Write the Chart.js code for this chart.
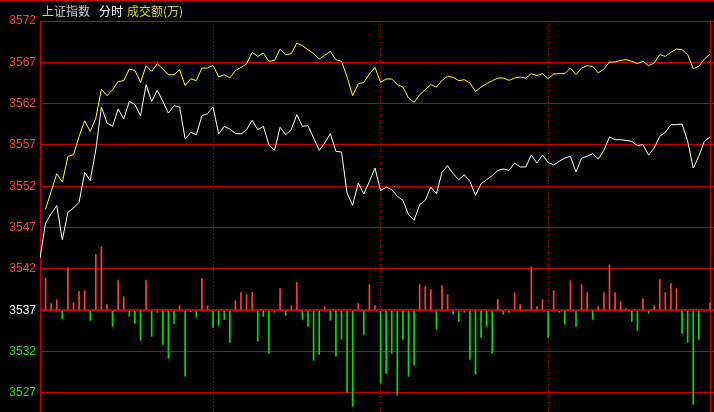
<!DOCTYPE html>
<html>
<head>
<meta charset="utf-8">
<style>
  html, body { margin: 0; padding: 0; background: #000; }
  #wrap { position: relative; width: 714px; height: 412px; }
  #chart { display: block; width: 714px; height: 412px; }
  #title { position: absolute; left: 42px; top: 4px; font: 12px "Noto Sans CJK SC", sans-serif; line-height: 13px; white-space: nowrap; }
  #title .a { color: #c8c8c8; }
  #title .b { color: #ffffff; margin-left: 9px; }
  #title .c { color: #d4d41e; margin-left: 4px; }
</style>
<script src="https://cdn.jsdelivr.net/npm/chart.js@4"></script>
</head>
<body>
<div id="wrap">
  <canvas id="chart" width="714" height="412"></canvas>
  <div id="title"><span class="a">上证指数</span><span class="b">分时</span><span class="c">成交额(万)</span></div>
</div>
<script>
// price line (white), one point per index 0..120
const priceLine = [
  3543.33, 3547.57, 3548.69, 3549.66, 3545.55, 3548.85, 3549.38, 3550.06, 3553.69, 3552.68,
  3556.43, 3561.60, 3559.66, 3559.25, 3561.36, 3560.15, 3562.27, 3561.88, 3560.54, 3564.29,
  3562.27, 3563.61, 3562.27, 3560.87, 3561.75, 3561.60, 3557.73, 3558.52, 3558.25, 3560.54,
  3560.79, 3561.60, 3558.33, 3559.25, 3558.94, 3558.40, 3558.33, 3558.85, 3559.98, 3558.85,
  3559.26, 3557.04, 3556.35, 3559.14, 3558.25, 3558.85, 3560.67, 3559.26, 3559.34, 3557.85,
  3556.35, 3557.24, 3558.37, 3556.23, 3556.15, 3551.19, 3549.70, 3552.40, 3551.07, 3552.60,
  3554.22, 3551.47, 3551.92, 3551.60, 3550.79, 3550.31, 3548.57, 3547.89, 3549.78, 3550.31,
  3551.92, 3551.11, 3553.69, 3554.50, 3553.53, 3552.81, 3553.41, 3552.60, 3550.91, 3552.32,
  3552.81, 3553.29, 3553.93, 3554.10, 3553.93, 3554.82, 3554.34, 3554.34, 3555.79, 3554.82,
  3555.79, 3554.90, 3554.58, 3555.02, 3555.42, 3555.63, 3553.73, 3555.42, 3555.63, 3555.95,
  3555.30, 3556.35, 3557.97, 3557.64, 3557.64, 3557.56, 3557.44, 3556.92, 3557.04, 3555.79,
  3556.64, 3558.05, 3558.53, 3559.46, 3559.46, 3559.54, 3557.44, 3554.22, 3555.63, 3557.44,
  3557.97
];

// yellow line, starts at index 1
const avgLine = [
  null,    3549.26, 3551.39, 3553.53, 3552.52, 3555.62, 3555.83, 3558.04, 3559.94, 3558.65,
  3560.27, 3563.77, 3562.96, 3563.69, 3564.69, 3564.78, 3566.19, 3566.02, 3564.57, 3566.59,
  3565.90, 3566.83, 3566.19, 3565.50, 3565.50, 3566.11, 3564.17, 3565.02, 3564.78, 3566.31,
  3566.31, 3566.63, 3565.23, 3565.50, 3565.11, 3566.00, 3566.39, 3566.80, 3568.21, 3567.72,
  3568.13, 3567.12, 3567.24, 3568.61, 3567.93, 3568.05, 3569.34, 3569.01, 3568.53, 3568.05,
  3567.40, 3567.85, 3568.33, 3567.32, 3567.12, 3565.22, 3562.97, 3564.38, 3564.58, 3565.59,
  3566.39, 3564.58, 3564.98, 3564.98, 3564.30, 3564.01, 3562.68, 3562.16, 3563.09, 3563.69,
  3564.30, 3564.01, 3564.82, 3565.31, 3565.18, 3564.78, 3564.90, 3564.50, 3563.49, 3564.01,
  3564.42, 3564.78, 3565.10, 3565.10, 3564.82, 3565.10, 3565.22, 3565.10, 3565.63, 3565.39,
  3565.63, 3565.02, 3565.59, 3565.63, 3565.63, 3566.31, 3565.51, 3566.31, 3566.59, 3566.51,
  3565.71, 3566.19, 3567.04, 3567.04, 3567.24, 3567.32, 3567.12, 3566.84, 3567.12, 3566.59,
  3566.92, 3567.93, 3567.72, 3568.21, 3568.61, 3568.53, 3567.93, 3566.23, 3566.51, 3567.40,
  3568.01
];

// bars around the 3537 baseline, index 1..120
const BASE = 3537;
const barDelta = [
         3.91,  0.81,  1.29, -1.01,  5.16,  0.93,  2.26,  2.38, -1.21,
   6.73, 7.70,  0.69, -1.94,  3.59,  1.65, -0.73, -1.57, -3.63,  3.59,
  -3.15, -0.24, -4.11, -5.81, -1.57,  0.52, -7.98, -0.16, -0.85,  3.83,
   0.52, -2.06, -1.81, -1.09, -3.87,  1.17,  2.14,  1.90,  2.14, -3.75,
  -0.73, -5.20, -0.24,  2.62, -0.60,  0.56,  3.35, -1.09, -1.94, -6.05,
  -5.32,  0.44, -1.21, -5.56, -3.51, -9.92, -11.61, 0.81, -2.90,  3.10,
   0.56, -8.83, -7.62, -5.20, -10.28, -3.51, -7.98, -6.65, 3.10,  2.86,
   2.50, -2.30,  2.98,  1.90, -0.48, -1.33, -0.24, -5.93, -7.74, -3.27,
  -1.94, -5.20,  1.29, -0.48, -0.24,  2.14,  0.69,  0,     5.28,  0.44,
   1.29, -3.27,  2.38, -0.24, -1.69,  3.59, -1.94,  3.10,  2.14, -1.09,
   0.44,  2.14,  5.52,  2.14,  1.05,  0.20, -1.33, -2.42,  1.41, -0.36,
   0.56,  3.71,  2.14,  3.23,  2.62, -2.78, -3.87, -11.37, -3.51, -0.12,
   0.93
];

const yTicks = [3527, 3532, 3537, 3542, 3547, 3552, 3557, 3562, 3567, 3572];
const sessionMarks = [31, 61, 91];

const BG = '#000000';
const GRID = '#c80000';
const RED = '#ff3c3c';
const GREEN = '#00e000';
const Y_MAX = 3572;
const Y_MIN = 3524.70;
const X_MAX = 120.716;

const frame = {
  id: 'frame',
  beforeDraw(chart) {
    const { ctx, width, height } = chart;
    ctx.save();
    ctx.fillStyle = BG;
    ctx.fillRect(0, 0, width, height);
    ctx.fillStyle = GRID;
    ctx.fillRect(0, 0, width, 1);
    ctx.restore();
  }
};

const noTicks = { display: false };

new Chart(document.getElementById('chart'), {
  type: 'bar',
  data: {
    datasets: [
      {
        type: 'line',
        data: priceLine.map((v, i) => ({ x: i, y: v })),
        borderColor: '#ffffff',
        borderWidth: 1,
        pointRadius: 0,
        tension: 0,
        order: 1
      },
      {
        type: 'line',
        data: avgLine.map((v, i) => ({ x: i, y: v })),
        borderColor: '#ffff00',
        borderWidth: 1,
        pointRadius: 0,
        tension: 0,
        order: 2
      },
      {
        type: 'bar',
        data: barDelta.map((d, i) => ({ x: i + 1, y: BASE + d })),
        base: BASE,
        backgroundColor: barDelta.map(d => d >= 0 ? RED : GREEN),
        barThickness: 1,
        order: 3
      }
    ]
  },
  options: {
    responsive: false,
    maintainAspectRatio: false,
    animation: false,
    layout: { autoPadding: false, padding: { top: 21, left: 0, right: 0, bottom: 0 } },
    plugins: { legend: { display: false }, tooltip: { enabled: false } },
    scales: {
      x: {
        type: 'linear',
        min: 0,
        max: X_MAX,
        offset: false,
        afterBuildTicks: s => { s.ticks = [{ value: 0 }, { value: 120 }]; },
        afterFit: s => { s.height = 0; },
        ticks: noTicks,
        grid: { color: GRID, drawTicks: false, offset: false },
        border: { display: false }
      },
      x2: {
        type: 'linear',
        min: 0,
        max: X_MAX,
        offset: false,
        afterBuildTicks: s => { s.ticks = sessionMarks.map(v => ({ value: v })); },
        afterFit: s => { s.height = 0; },
        ticks: noTicks,
        grid: { color: GRID, drawTicks: false, offset: false },
        border: { display: false, dash: [1, 2] }
      },
      y: {
        min: Y_MIN,
        max: Y_MAX,
        afterBuildTicks: s => { s.ticks = yTicks.map(v => ({ value: v })); },
        afterFit: s => {
          s.width = 40;
          s.paddingTop = 0;
          s.paddingBottom = 0;
        },
        grid: {
          color: GRID,
          drawTicks: false,
          lineWidth: c => (c.tick && c.tick.value === BASE ? 2 : 1)
        },
        border: { display: false },
        ticks: {
          padding: 4,
          autoSkip: false,
          font: { family: 'Liberation Sans', size: 12 },
          callback: v => String(v),
          color: c => {
            const v = c.tick.value;
            if (v > BASE) return RED;
            if (v < BASE) return '#22dd22';
            return '#ffffff';
          }
        }
      }
    }
  },
  plugins: [frame]
});
</script>
</body>
</html>
